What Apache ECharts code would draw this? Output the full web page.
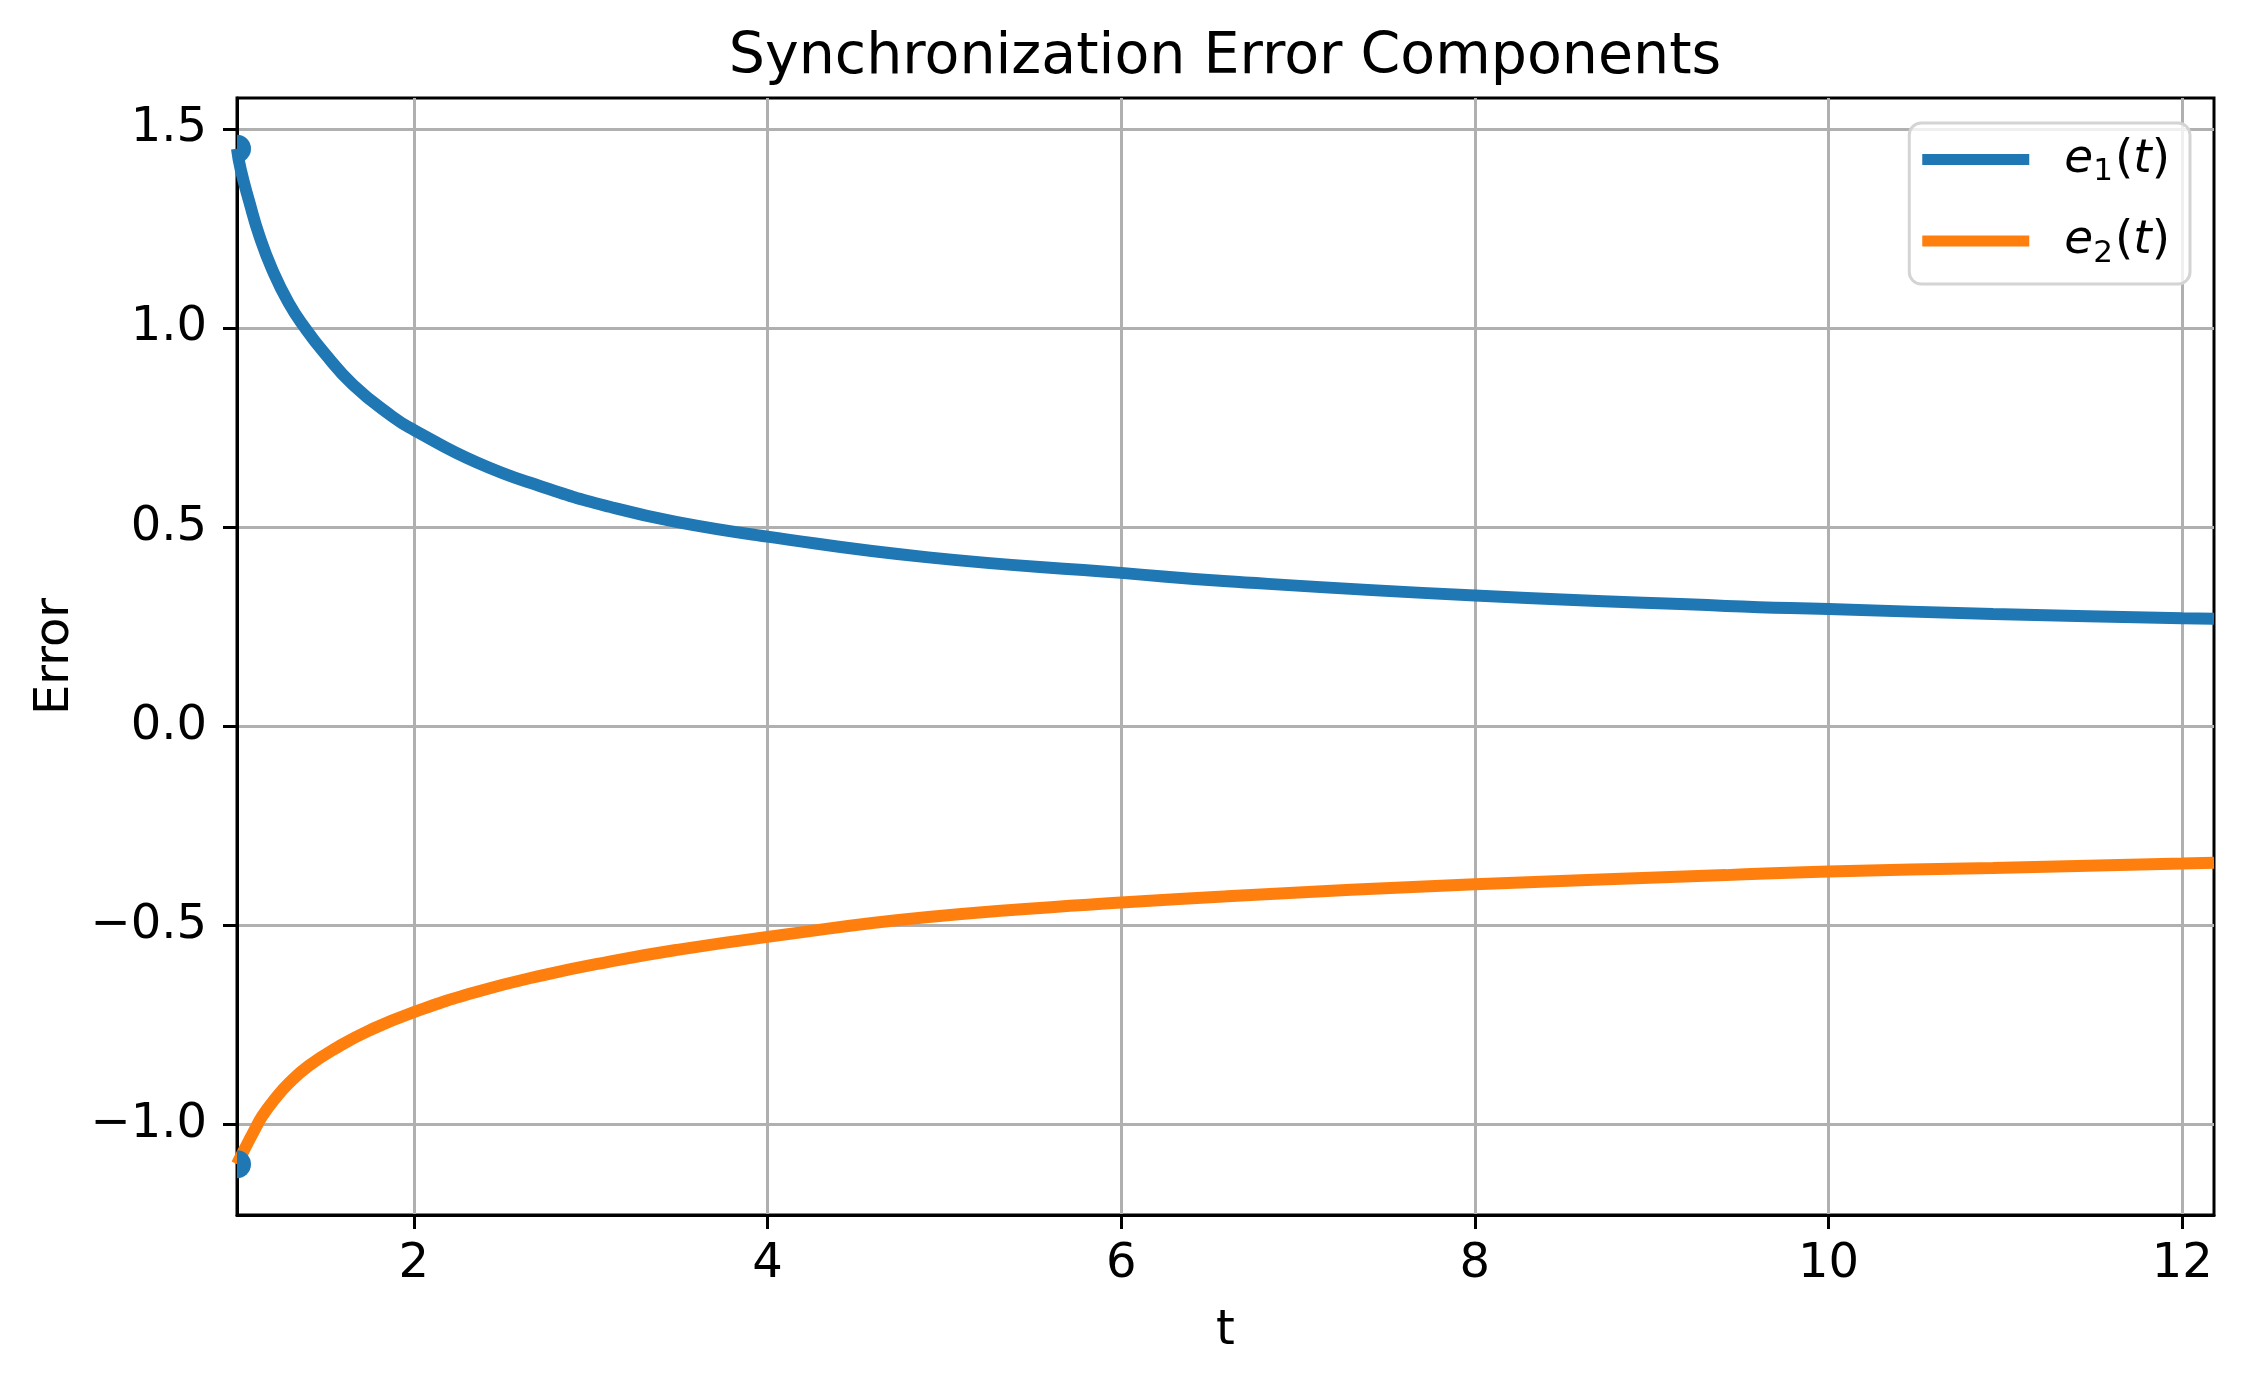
<!DOCTYPE html>
<html>
<head>
<meta charset="utf-8">
<title>Synchronization Error Components</title>
<script src="https://cdn.jsdelivr.net/npm/echarts@6/dist/echarts.min.js"></script>
<style>
  html, body { margin: 0; padding: 0; background: #fff; }
  #chart { width: 2253px; height: 1381px; }
</style>
</head>
<body>
<div id="chart"></div>
<script>
// values
var tE1 = [1.000, 1.020, 1.070, 1.126, 1.198, 1.292, 1.385, 1.489, 1.655, 1.880, 2.000, 2.357, 2.733, 3.107, 3.483, 4.000, 4.910, 6.000, 6.600, 8.000, 9.420, 10.00, 10.93, 12.00, 12.18];
var e1 = [1.450, 1.400, 1.316, 1.232, 1.148, 1.063, 1.000, 0.940, 0.858, 0.777, 0.744, 0.662, 0.600, 0.551, 0.513, 0.476, 0.424, 0.385, 0.364, 0.328, 0.302, 0.294, 0.282, 0.271, 0.2695];

var tE2 = [1.000, 1.043, 1.091, 1.143, 1.213, 1.297, 1.405, 1.561, 1.749, 2.000, 2.357, 2.733, 3.107, 3.483, 4.000, 4.910, 6.000, 6.600, 8.000, 9.420, 10.00, 10.93, 12.00, 12.18];
var e2 = [-1.100, -1.062, -1.021, -0.979, -0.937, -0.895, -0.853, -0.808, -0.764, -0.718, -0.667, -0.625, -0.591, -0.562, -0.529, -0.479, -0.443, -0.427, -0.397, -0.374, -0.365, -0.356, -0.345, -0.343];

var initT = [1, 1];
var initE = [1.45, -1.10];

var xTicks = [2, 4, 6, 8, 10, 12];
var yTicks = [-1.0, -0.5, 0.0, 0.5, 1.0, 1.5];

var FONT = 'DejaVu Sans';
var BLUE = '#1f77b4';
var ORANGE = '#ff7f0e';

function pairs(xs, ys) {
  var out = [];
  for (var i = 0; i < xs.length; i++) {
    out.push([xs[i], ys[i]]);
  }
  return out;
}

function fmtY(v) {
  var s = Math.abs(v).toFixed(1);
  return v < 0 ? '\u2212' + s : s;
}

function legendLabel(name) {
  var n = name === 'e1' ? '1' : '2';
  return '{i|e}{sub|' + n + '}{n|(}{i|t}{n|)}';
}

var chart = echarts.init(document.getElementById('chart'), null, { renderer: 'canvas' });

var axisCommon = {
  axisLine: { show: true, onZero: false, lineStyle: { color: '#000', width: 3 } },
  axisTick: { show: true, inside: false, length: 14, lineStyle: { color: '#000', width: 3 } },
  splitLine: { show: true, lineStyle: { color: '#b0b0b0', width: 3 } }
};

var option = {
  animation: false,
  backgroundColor: '#fff',
  title: {
    text: 'Synchronization Error Components',
    left: 1225,
    top: 30,
    padding: 0,
    textAlign: 'center',
    textStyle: { fontFamily: FONT, fontSize: 57, fontWeight: 'normal', color: '#000' }
  },
  grid: {
    left: 237,
    right: 39,
    top: 98,
    bottom: 166,
    show: true,
    borderColor: '#000',
    borderWidth: 3,
    containLabel: false
  },
  legend: {
    data: ['e1', 'e2'],
    orient: 'vertical',
    right: 63,
    top: 123,
    padding: [13, 20, 15, 13],
    itemGap: 30,
    itemWidth: 107,
    itemHeight: 11,
    icon: 'rect',
    backgroundColor: 'rgba(255,255,255,0.8)',
    borderColor: '#d4d4d4',
    borderWidth: 3,
    borderRadius: 12,
    formatter: legendLabel,
    textStyle: {
      fontFamily: FONT,
      color: '#000',
      padding: [0, 0, 0, 30],
      rich: {
        i: { fontFamily: FONT, fontStyle: 'italic', fontSize: 47, lineHeight: 56, color: '#000' },
        n: { fontFamily: FONT, fontSize: 47, lineHeight: 56, color: '#000' },
        sub: { fontFamily: FONT, fontSize: 31, lineHeight: 26, verticalAlign: 'bottom', padding: [0, 2, 0, 0], color: '#000' }
      }
    }
  },
  xAxis: Object.assign({}, axisCommon, {
    type: 'value',
    min: 1,
    max: 12.18,
    name: 't',
    nameLocation: 'middle',
    nameGap: 93,
    nameTextStyle: { fontFamily: FONT, fontSize: 48, color: '#000' },
    axisTick: Object.assign({}, axisCommon.axisTick, { customValues: xTicks }),
    axisLabel: {
      customValues: xTicks,
      margin: 26,
      fontFamily: FONT,
      fontSize: 48,
      color: '#000'
    }
  }),
  yAxis: Object.assign({}, axisCommon, {
    type: 'value',
    min: -1.2275,
    max: 1.5775,
    name: 'Error',
    nameLocation: 'middle',
    nameGap: 150,
    nameTextStyle: { fontFamily: FONT, fontSize: 48, color: '#000' },
    axisTick: Object.assign({}, axisCommon.axisTick, { customValues: yTicks }),
    axisLabel: {
      customValues: yTicks,
      margin: 30,
      fontFamily: FONT,
      fontSize: 48,
      color: '#000',
      formatter: fmtY
    }
  }),
  series: [
    {
      name: 'e1',
      type: 'line',
      data: pairs(tE1, e1),
      showSymbol: false,
      smooth: 0.5,
      color: BLUE,
      lineStyle: { color: BLUE, width: 12 },
      z: 3
    },
    {
      name: 'e2',
      type: 'line',
      data: pairs(tE2, e2),
      showSymbol: false,
      smooth: 0.5,
      color: ORANGE,
      lineStyle: { color: ORANGE, width: 12 },
      z: 3
    },
    {
      name: 'init',
      type: 'scatter',
      data: pairs(initT, initE),
      // right half of the dot only, it is clipped by the frame in the reference
      symbol: 'path://M0,0 A1,1 0 0,1 0,2 Z',
      symbolSize: [14, 28],
      symbolOffset: [7, 0],
      itemStyle: { color: BLUE, opacity: 1 },
      z: 4
    }
  ]
};

chart.setOption(option);
</script>
</body>
</html>
